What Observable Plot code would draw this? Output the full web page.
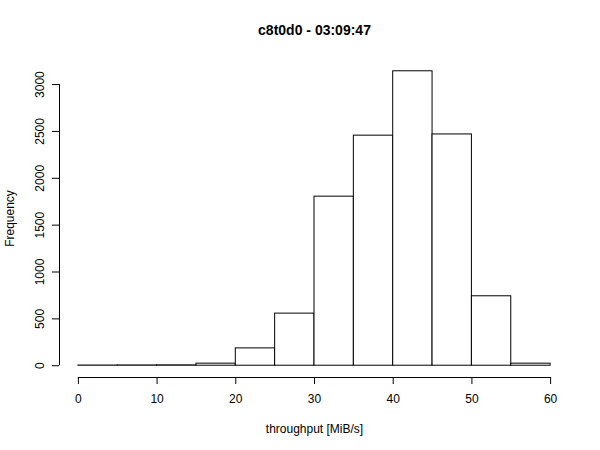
<!DOCTYPE html>
<html>
<head>
<meta charset="utf-8">
<script src="https://cdn.jsdelivr.net/npm/d3@7"></script>
<script src="https://cdn.jsdelivr.net/npm/@observablehq/plot@0.6"></script>
<style>
  html, body { margin: 0; padding: 0; background: #fff; }
</style>
</head>
<body>
<div id="chart"></div>
<script>
const title = "c8t0d0 - 03:09:47";
const xLabel = "throughput [MiB/s]";
const yLabel = "Frequency";
const binStarts = [0, 5, 10, 15, 20, 25, 30, 35, 40, 45, 50, 55];
const binWidth = 5;
const counts = [2, 3, 4, 22, 185, 556, 1804, 2455, 3142, 2468, 741, 22];
const xTicks = [0, 10, 20, 30, 40, 50, 60];
const yTicks = [0, 500, 1000, 1500, 2000, 2500, 3000];

const bins = binStarts.map((s, i) => ({x1: s, x2: s + binWidth, count: counts[i]}));

// R-style 4% axis extension
const xMin = 0 - 0.04 * 60, xMax = 60 + 0.04 * 60;
const yMaxData = d3.max(counts);
const yMin = -0.04 * yMaxData, yMax = yMaxData * 1.04;

const chart = Plot.plot({
  width: 600,
  height: 450,
  marginLeft: 59,
  marginRight: 31,
  marginTop: 59,
  marginBottom: 73,
  style: {fontFamily: "'Liberation Sans', Arial, sans-serif", fontSize: "12px", background: "#fff", color: "#000"},
  x: {domain: [xMin, xMax], axis: null},
  y: {domain: [yMin, yMax], axis: null},
  marks: [
    Plot.rectY(bins, {x1: "x1", x2: "x2", y1: 0, y2: "count", fill: "white", stroke: "black", strokeWidth: 1}),
    // x axis
    Plot.ruleY([yMin], {x1: xTicks[0], x2: xTicks[xTicks.length - 1], stroke: "black"}),
    Plot.axisX({ticks: xTicks, tickSize: 7, tickPadding: 10, tickFormat: d => d, stroke: "black", fill: "black", fontSize: 12, anchor: "bottom", label: null}),
    // y axis
    Plot.ruleX([xMin], {y1: yTicks[0], y2: yTicks[yTicks.length - 1], stroke: "black"}),
    Plot.axisY({ticks: yTicks, tickSize: 7, tickFormat: () => "", stroke: "black", anchor: "left", label: null}),
    Plot.text(yTicks, {y: d => d, text: d => String(d), frameAnchor: "left", dx: -19, rotate: -90, textAnchor: "middle", lineAnchor: "middle", fontSize: 12, fill: "black"}),
    // labels
    Plot.text([title], {frameAnchor: "top", dy: -29, text: d => d, fontWeight: "bold", fontSize: 14, lineAnchor: "middle", fill: "black"}),
    Plot.text([xLabel], {frameAnchor: "bottom", dy: 52, text: d => d, fontSize: 12, lineAnchor: "middle", fill: "black"}),
    Plot.text([yLabel], {frameAnchor: "left", dx: -49, rotate: -90, text: d => d, fontSize: 12, lineAnchor: "middle", textAnchor: "middle", fill: "black"})
  ]
});
document.getElementById("chart").appendChild(chart);
</script>
</body>
</html>
